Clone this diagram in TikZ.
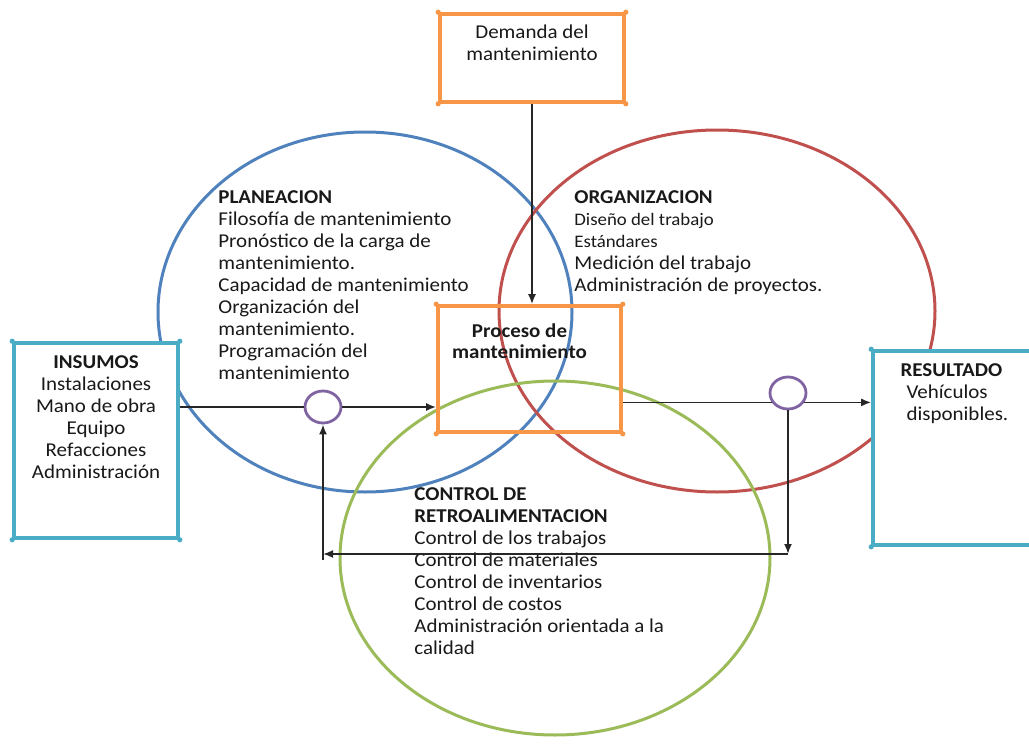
\documentclass[tikz,border=0pt]{standalone}
\usepackage{fontspec}
\setmainfont{Carlito}[FakeStretch=1.07]
\usepackage{tikz}
\usetikzlibrary{arrows.meta,positioning,shapes.geometric}
\definecolor{BoxOrange}{HTML}{F79646}
\definecolor{BoxCyan}{HTML}{4BACC6}
\definecolor{RingBlue}{HTML}{4F81BD}
\definecolor{RingRed}{HTML}{C0504D}
\definecolor{RingGreen}{HTML}{9BBB59}
\definecolor{JoinPurple}{HTML}{8064A2}

\begin{document}
\begin{tikzpicture}[x=0.5pt,y=-0.5pt,>={Latex[length=5pt,width=4pt]},
  every node/.style={font=\fontsize{9.8}{11}\selectfont,text=black!90},
  orangebox/.style={draw=BoxOrange,line width=1.8pt},
  cyanbox/.style={draw=BoxCyan,line width=1.8pt,fill=white},
  joint/.style={draw=JoinPurple,line width=1.4pt,ellipse,
    minimum width=18pt,minimum height=16pt,inner sep=0pt},
  ring/.style={line width=1.5pt},
  labeltext/.style={inner sep=0pt,align=left},
  flow/.style={draw=black!85,line width=0.9pt}]
  \useasboundingbox (0,0) rectangle (1029,744);
  % the three areas
  \draw[ring,draw=RingBlue] (365,312) ellipse [x radius=207,y radius=180];
  \draw[ring,draw=RingRed] (717,311) ellipse [x radius=218,y radius=181];
  \draw[ring,draw=RingGreen] (555,558) ellipse [x radius=215,y radius=177];
  % boxes
  \node[orangebox,fill=white,minimum width=92pt,minimum height=44pt] (demanda) at (532,58) {};
  \node[orangebox,minimum width=91.5pt,minimum height=63pt] (proceso) at (529.5,369) {};
  \node[cyanbox,minimum width=82pt,minimum height=97.5pt] (insumos) at (96,440.5) {};
  \node[cyanbox,minimum width=80.5pt,minimum height=97pt] (resultado) at (953.5,448) {};
  \fill[BoxOrange] (demanda.north west) circle[radius=2.6] (demanda.north east) circle[radius=2.6]
    (demanda.south west) circle[radius=2.6] (demanda.south east) circle[radius=2.6];
  \fill[BoxOrange] (proceso.north west) circle[radius=2.6] (proceso.north east) circle[radius=2.6]
    (proceso.south west) circle[radius=2.6] (proceso.south east) circle[radius=2.6];
  \fill[BoxCyan] (insumos.north west) circle[radius=2.6] (insumos.north east) circle[radius=2.6]
    (insumos.south west) circle[radius=2.6] (insumos.south east) circle[radius=2.6];
  \fill[BoxCyan] (resultado.north west) circle[radius=2.6] (resultado.south west) circle[radius=2.6];
  % texts
  \node[labeltext,align=center,below=6pt of demanda.north] (demandatext) {Demanda del\\mantenimiento};
  \node[labeltext,align=center,font=\fontsize{9.8}{10.5}\selectfont\bfseries,
    below=9.5pt of proceso.north,xshift=-5pt] (procesotext) {Proceso de\\mantenimiento};
  \node[labeltext,align=center,below=7pt of insumos.north] (insumostext)
    {\textbf{INSUMOS}\\Instalaciones\\Mano de obra\\Equipo\\Refacciones\\Administración};
  \node[labeltext,below right=7pt and 14.5pt of resultado.north west] (resultadotext)
    {\textbf{RESULTADO}\\\hspace{3pt}Vehículos\\\hspace{3pt}disponibles.};
  \node[labeltext,anchor=north west] (planeaciontext) at (218,190)
    {\textbf{PLANEACION}\\Filosofía de mantenimiento\\Pronóstico de la carga de\\mantenimiento.\\
     Capacidad de mantenimiento\\Organización del\\mantenimiento.\\Programación del\\mantenimiento};
  \node[labeltext,anchor=north west] (organizaciontext) at (574,190)
    {\textbf{ORGANIZACION}\\{\fontsize{8.8}{11}\selectfont Diseño del trabajo}\\
     {\fontsize{8.8}{11}\selectfont Estándares}\\Medición del trabajo\\Administración de proyectos.};
  \node[labeltext,anchor=north west] (controltext) at (414,487)
    {\textbf{CONTROL DE}\\\textbf{RETROALIMENTACION}\\Control de los trabajos\\Control de materiales\\
     Control de inventarios\\Control de costos\\Administración orientada a la\\calidad};
  % junctions
  \node[joint] (jin) at (323,407) {};
  \node[joint] (jout) at (788,393) {};
  % connectors
  \draw[flow,->] (demanda.south) -- (demanda.south |- proceso.north);
  \draw[flow] (insumos.east |- jin) -- (jin.west);
  \draw[flow,line width=1.2pt,->] (jin.east) -- (jin -| proceso.west);
  \draw[flow] (proceso.east |- jout.210) -- (jout.210);
  \draw[flow,->] (jout.-30) -- (jout.-30 -| resultado.west);
  \coordinate (backR) at (jout.south |- 0,554);
  \coordinate (backL) at (jin.south |- 0,554);
  \coordinate (backTail) at (jin.south |- 0,560);
  \draw[flow,->] (jout.south) -- (backR);
  \draw[flow,->] (backR) -- (backL);
  \draw[flow,->] (backTail) -- (jin.south);
\end{tikzpicture}
\end{document}
